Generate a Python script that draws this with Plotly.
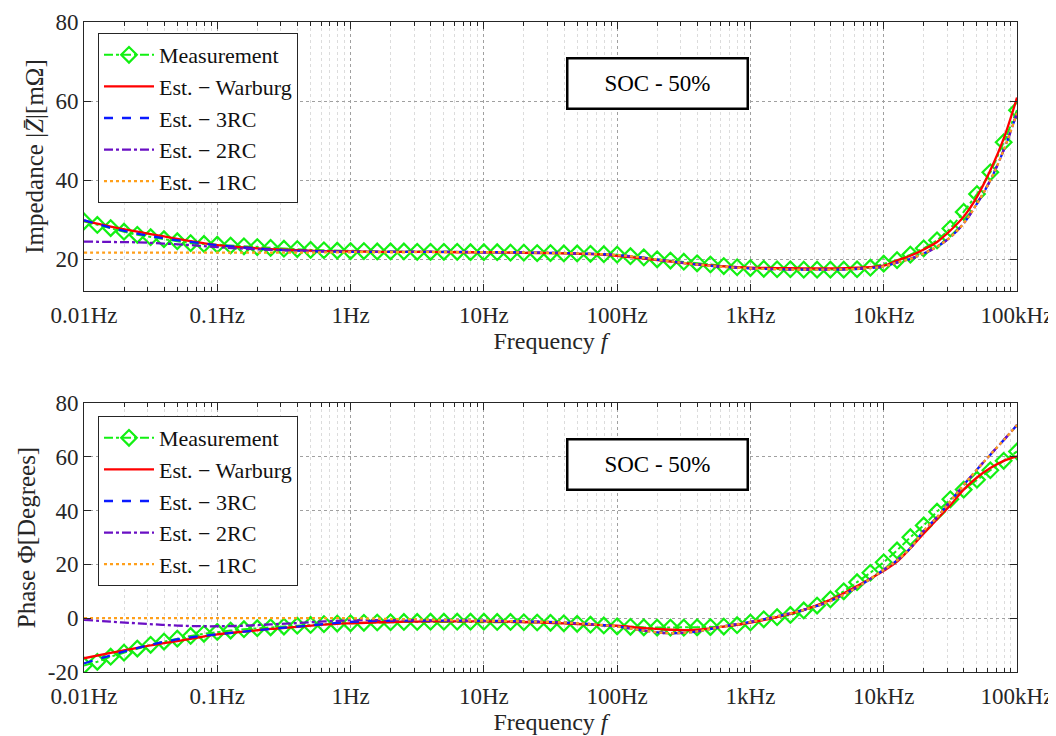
import numpy as np
import plotly.graph_objects as go

# ---------------- data ----------------
meas_freq = np.logspace(-2, 5, 71)  # measurement sweep, 10 points / decade

meas_z = [29.6, 28.7, 27.9, 27.0, 26.2, 25.6, 25.1, 24.6, 24.1, 23.9,
          23.7, 23.5, 23.3, 23.1, 22.9, 22.7, 22.6, 22.4, 22.3, 22.2,
          22.1, 22.1, 22.0, 22.0, 22.0, 21.9, 21.9, 21.9, 21.9, 21.8,
          21.8, 21.8, 21.7, 21.7, 21.6, 21.6, 21.5, 21.5, 21.4, 21.3,
          21.2, 20.8, 20.5, 20.0, 19.7, 19.4, 19.0, 18.7, 18.3, 18.0,
          17.8, 17.6, 17.5, 17.5, 17.4, 17.4, 17.4, 17.4, 17.5, 17.9,
          18.9, 19.8, 21.2, 22.8, 24.8, 27.8, 32.0, 36.5, 42.0, 49.6, 57.7]

meas_phase = [-17.6, -16.2, -14.3, -12.8, -11.3, -9.9, -8.7, -7.6, -6.6, -5.8,
              -5.1, -4.6, -4.1, -3.7, -3.4, -3.1, -2.8, -2.5, -2.2, -2.0,
              -1.9, -1.7, -1.6, -1.5, -1.4, -1.4, -1.3, -1.3, -1.3, -1.3,
              -1.3, -1.4, -1.4, -1.5, -1.6, -1.7, -1.9, -2.1, -2.4, -2.7,
              -3.0, -3.2, -3.4, -3.5, -3.5, -3.5, -3.4, -3.3, -3.1, -2.6,
              -1.6, -0.4, 0.4, 1.2, 2.9, 4.7, 7.0, 10.0, 13.4, 16.9,
              20.8, 25.2, 30.1, 34.5, 39.6, 44.2, 47.8, 51.5, 55.0, 58.5, 62.0]

est_logf = [-2.0, -1.8, -1.6, -1.4, -1.2, -1.0, -0.8, -0.6, -0.4, -0.2,
            0.0, 0.2, 0.4, 0.6, 0.8, 1.0, 1.2, 1.4, 1.6, 1.8,
            2.0, 2.2, 2.4, 2.6, 2.8, 3.0, 3.2, 3.4, 3.6, 3.8,
            4.0, 4.1, 4.2, 4.3, 4.4, 4.5, 4.6, 4.7, 4.8, 4.9, 5.0]
est_freq = [10 ** v for v in est_logf]

z_warburg = [29.8, 28.3, 27.0, 25.8, 24.6, 23.6, 23.0, 22.6, 22.3, 22.1,
             22.0, 21.9, 21.9, 21.9, 21.8, 21.8, 21.7, 21.6, 21.5, 21.3,
             20.9, 20.2, 19.4, 18.7, 18.2, 17.9, 17.8, 17.7, 17.7, 17.9,
             18.4, 19.7, 20.9, 22.5, 24.4, 27.3, 30.8, 35.8, 42.5, 50.5, 60.9]
z_3rc = [29.9, 28.0, 26.5, 25.3, 24.4, 23.6, 23.0, 22.5, 22.2, 22.0,
         21.9, 21.9, 21.9, 21.9, 21.9, 21.8, 21.8, 21.7, 21.6, 21.4,
         21.1, 20.4, 19.5, 18.7, 18.1, 17.7, 17.5, 17.4, 17.4, 17.6,
         18.2, 19.2, 20.1, 21.5, 23.2, 25.6, 29.1, 34.1, 40.0, 47.6, 57.0]
z_2rc = [24.5, 24.4, 24.3, 24.0, 23.6, 23.1, 22.7, 22.4, 22.2, 22.0,
         21.9, 21.9, 21.9, 21.9, 21.9, 21.8, 21.8, 21.7, 21.6, 21.4,
         21.1, 20.4, 19.5, 18.7, 18.1, 17.7, 17.5, 17.4, 17.4, 17.6,
         18.2, 19.2, 20.1, 21.5, 23.2, 25.6, 29.1, 34.1, 40.0, 47.6, 57.0]
z_1rc = [21.7, 21.7, 21.7, 21.7, 21.7, 21.7, 21.7, 21.7, 21.7, 21.75,
         21.8, 21.8, 21.8, 21.85, 21.85, 21.8, 21.8, 21.7, 21.6, 21.4,
         21.1, 20.4, 19.5, 18.7, 18.1, 17.7, 17.5, 17.4, 17.4, 17.6,
         18.2, 19.2, 20.1, 21.5, 23.2, 25.6, 29.1, 34.1, 40.0, 47.6, 57.0]

ph_warburg = [-14.9, -12.9, -11.0, -9.3, -7.7, -6.0, -5.0, -4.0, -3.2, -2.4,
              -1.9, -1.5, -1.3, -1.2, -1.2, -1.2, -1.3, -1.5, -1.9, -2.4,
              -2.8, -3.7, -4.3, -4.3, -3.1, -1.6, 0.4, 3.1, 6.8, 12.0,
              17.6, 21.0, 26.0, 31.5, 36.8, 42.0, 47.8, 52.3, 55.8, 58.5, 60.2]
ph_3rc = [-16.8, -13.8, -11.1, -8.8, -7.1, -6.0, -5.0, -4.0, -3.1, -2.2,
          -1.4, -1.0, -0.9, -0.9, -0.9, -1.0, -1.1, -1.3, -1.6, -2.2,
          -3.1, -4.6, -5.6, -4.9, -3.0, -1.4, 0.7, 3.1, 6.4, 11.5,
          18.0, 21.5, 26.0, 32.5, 37.5, 43.5, 49.5, 55.3, 60.8, 66.2, 71.8]
ph_2rc = [-0.6, -1.3, -1.9, -2.5, -2.9, -3.0, -2.8, -2.3, -1.8, -1.2,
          -0.8, -0.7, -0.7, -0.8, -0.9, -1.0, -1.1, -1.3, -1.6, -2.2,
          -3.1, -4.6, -5.6, -4.9, -3.0, -1.4, 0.7, 3.1, 6.4, 11.5,
          18.0, 21.5, 26.0, 32.5, 37.5, 43.5, 49.5, 55.3, 60.8, 66.2, 71.8]
ph_1rc = [0.0, 0.0, 0.0, 0.0, 0.0, 0.0, 0.0, 0.0, 0.0, 0.0,
          0.0, -0.2, -0.4, -0.6, -0.8, -0.9, -1.1, -1.3, -1.6, -2.2,
          -3.1, -4.6, -5.6, -4.9, -3.0, -1.4, 0.7, 3.1, 6.4, 11.5,
          18.0, 21.5, 26.0, 32.5, 37.5, 43.5, 49.5, 55.3, 60.8, 66.2, 71.8]

x_tickvals = [0.01, 0.1, 1, 10, 100, 1e3, 1e4, 1e5]
x_ticktext = ["0.01Hz", "0.1Hz", "1Hz", "10Hz", "100Hz", "1kHz", "10kHz", "100kHz"]
z_ticks = [20, 40, 60, 80]
z_ticktext = ["20", "40", "60", "80"]
ph_ticks = [-20, 0, 20, 40, 60, 80]
ph_ticktext = ["-20", "0", "20", "40", "60", "80"]
series_names = ["Measurement", "Est. \u2212 Warburg", "Est. \u2212 3RC",
                "Est. \u2212 2RC", "Est. \u2212 1RC"]
box_text = "SOC - 50%"

# ---------------- styling ----------------
FONT = "Liberation Serif"
FS = 23
AX = "#262626"
GREEN = "#12f012"
RED = "#ff0000"
BLUE = "#0a1aff"
PURPLE = "#6a0fc4"
ORANGE = "#ff9f1a"

fig = go.Figure()

def add_panel(xax, yax, legend, ydata):
    meas, war, r3, r2, r1 = ydata
    common = dict(xaxis=xax, yaxis=yax, legend=legend)
    fig.add_trace(go.Scatter(x=meas_freq, y=meas, name=series_names[0], mode="lines+markers",
                             line=dict(color=GREEN, width=2, dash="dashdot"),
                             marker=dict(symbol="diamond-open", size=12, color=GREEN,
                                         line=dict(width=2.2, color=GREEN)), **common))
    fig.add_trace(go.Scatter(x=est_freq, y=war, name=series_names[1], mode="lines",
                             line=dict(color=RED, width=2.3, shape="spline"), **common))
    fig.add_trace(go.Scatter(x=est_freq, y=r3, name=series_names[2], mode="lines",
                             line=dict(color=BLUE, width=2.3, dash="dash", shape="spline"), **common))
    fig.add_trace(go.Scatter(x=est_freq, y=r2, name=series_names[3], mode="lines",
                             line=dict(color=PURPLE, width=2.3, dash="dashdot", shape="spline"), **common))
    fig.add_trace(go.Scatter(x=est_freq, y=r1, name=series_names[4], mode="lines",
                             line=dict(color=ORANGE, width=2.3, dash="dot", shape="spline"), **common))

add_panel("x", "y", "legend", (meas_z, z_warburg, z_3rc, z_2rc, z_1rc))
add_panel("x2", "y2", "legend2", (meas_phase, ph_warburg, ph_3rc, ph_2rc, ph_1rc))

minor_vals = [m * 10 ** d for d in range(-2, 5) for m in range(2, 10)]

def xaxis_style(anchor):
    return dict(type="log", range=[-2, 5], anchor=anchor, automargin=False,
                tickmode="array", tickvals=x_tickvals, ticktext=x_ticktext,
                ticks="inside", ticklen=7, tickcolor=AX, ticklabelstandoff=3,
                showline=True, linecolor=AX, linewidth=1, mirror="ticks",
                showgrid=True, gridcolor="#a0a0a0", griddash="dot", gridwidth=1,
                zeroline=False,
                minor=dict(tickmode="array", tickvals=minor_vals, ticks="inside", ticklen=4,
                           tickcolor=AX, showgrid=True, gridcolor="#dcdcdc",
                           griddash="dot", gridwidth=1),
                tickfont=dict(family=FONT, size=FS, color=AX),
                title=dict(text="Frequency <i>f</i>", font=dict(family=FONT, size=FS + 1, color=AX),
                           standoff=4))

def yaxis_style(anchor, domain, rng, ticks, ticktext, title):
    return dict(domain=domain, range=rng, anchor=anchor, automargin=False,
                tickmode="array", tickvals=ticks, ticktext=ticktext,
                ticks="inside", ticklen=7, tickcolor=AX,
                showline=True, linecolor=AX, linewidth=1, mirror="ticks",
                showgrid=True, gridcolor="#a0a0a0", griddash="dot", gridwidth=1,
                zeroline=False,
                tickfont=dict(family=FONT, size=FS, color=AX),
                title=dict(text=title, font=dict(family=FONT, size=FS + 2, color=AX),
                           standoff=4))

legend_common = dict(bgcolor="white", bordercolor=AX, borderwidth=1,
                     font=dict(family=FONT, size=22, color="#111111"),
                     itemwidth=50, tracegroupgap=0, xanchor="left", yanchor="top")

# page body adds an 8px offset, so the figure is drawn 8px smaller
W, H = 1048, 728
fig.update_layout(
    width=W, height=H,
    margin=dict(l=76, r=39, t=0, b=0, autoexpand=False),
    paper_bgcolor="white", plot_bgcolor="white",
    showlegend=True,
    xaxis=xaxis_style("y"),
    xaxis2=xaxis_style("y2"),
    yaxis=yaxis_style("x", [(H - 283) / H, (H - 14) / H], [12, 80], z_ticks, z_ticktext,
                      "Impedance |<i>Z\u0304</i>|[m\u03a9]"),
    yaxis2=yaxis_style("x2", [(H - 664) / H, (H - 395) / H], [-20, 80], ph_ticks, ph_ticktext,
                       "Phase \u03a6[Degrees]"),
    legend=dict(x=0.015, y=(H - 25) / H, **legend_common),
    legend2=dict(x=0.015, y=(H - 408) / H, **legend_common),
)

for yref, xref in (("y domain", "x domain"), ("y2 domain", "x2 domain")):
    fig.add_annotation(text=box_text, xref=xref, yref=yref, x=0.615, y=0.771,
                       xanchor="center", yanchor="middle", showarrow=False,
                       font=dict(family=FONT, size=FS, color="black"),
                       bgcolor="white", bordercolor="black", borderwidth=2.5,
                       width=178, height=48, borderpad=0)

fig.write_html("out.html")
